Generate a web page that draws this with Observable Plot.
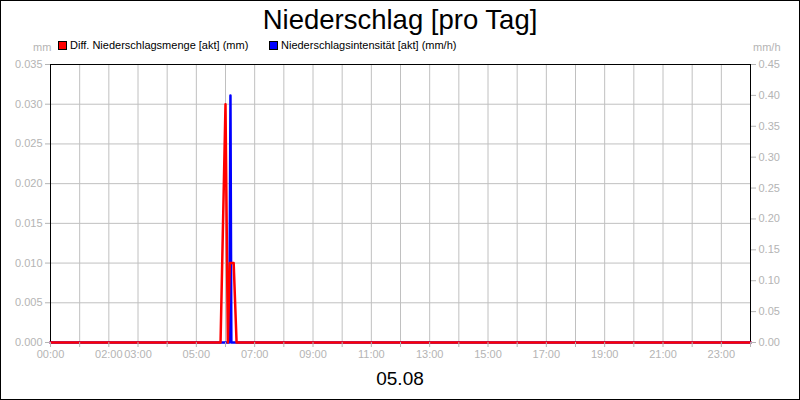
<!DOCTYPE html>
<html>
<head>
<meta charset="utf-8">
<script src="https://cdn.jsdelivr.net/npm/d3@7"></script>
<script src="https://cdn.jsdelivr.net/npm/@observablehq/plot@0.6"></script>
<style>
  html, body { margin: 0; padding: 0; background: #fff; }
  #wrap { position: relative; width: 800px; height: 400px; overflow: hidden; font-family: "Liberation Sans", Arial, sans-serif; }
  #wrap svg { position: absolute; left: 0; top: 0; }
  #border { position: absolute; left: 0; top: 0; width: 800px; height: 400px; box-sizing: border-box; border: 1px solid #000; pointer-events: none; }
  .abs { position: absolute; white-space: nowrap; line-height: 1; }
  #title { left: 0; width: 800px; text-align: center; top: 6px; font-size: 27.5px; color: #000; }
  #date { left: 0; width: 800px; text-align: center; top: 369px; font-size: 19px; color: #000; }
  .leg { top: 40px; font-size: 11px; color: #000; }
  .sw { display: inline-block; width: 7px; height: 7px; border: 1px solid #000; vertical-align: -1px; margin-right: 3px; }
  .unit { top: 42px; font-size: 11px; color: #b4b4b4; }
</style>
</head>
<body>
<div id="wrap">
  <div id="title" class="abs">Niederschlag [pro Tag]</div>
  <div class="abs leg" style="left:58px"><span class="sw" style="background:#ff0000"></span>Diff. Niederschlagsmenge [akt] (mm)</div>
  <div class="abs leg" style="left:269px"><span class="sw" style="background:#0000ff"></span>Niederschlagsintensität [akt] (mm/h)</div>
  <div class="abs unit" style="left:33px">mm</div>
  <div class="abs unit" style="left:753px">mm/h</div>
  <div id="date" class="abs">05.08</div>
  <div id="border"></div>
</div>
<script>
// Diff. Niederschlagsmenge (mm), time in hours of day
const mengeTime  = [0, 5.83, 6.0, 6.08, 6.15, 6.28, 6.38, 24];
const mengeValue = [0, 0, 0.030, 0, 0.010, 0.010, 0, 0];
// Niederschlagsintensität (mm/h)
const intensTime  = [0, 6.13, 6.17, 6.2, 24];
const intensValue = [0, 0, 0.40, 0, 0];

const leftTicks  = [0, 0.005, 0.010, 0.015, 0.020, 0.025, 0.030, 0.035];
const rightTicks = [0, 0.05, 0.10, 0.15, 0.20, 0.25, 0.30, 0.35, 0.40, 0.45];
const hourTicks  = d3.range(0, 25);
const hourLabels = [0, 2, 3, 5, 7, 9, 11, 13, 15, 17, 19, 21, 23];

const k = 0.035 / 0.45; // right axis -> left axis
const menge  = mengeTime.map((t, i) => ({t, v: mengeValue[i]}));
const intens = intensTime.map((t, i) => ({t, v: intensValue[i] * k}));

const gray = "#b4b4b4";
const chart = Plot.plot({
  width: 800, height: 400,
  marginLeft: 50, marginRight: 50, marginTop: 64, marginBottom: 58,
  x: {domain: [0, 24]},
  y: {domain: [0, 0.035]},
  style: {fontFamily: "'Liberation Sans', Arial, sans-serif", fontSize: "11px", background: "transparent", overflow: "visible"},
  marks: [
    Plot.gridY(leftTicks.slice(1, -1), {stroke: "#c0c0c0", strokeOpacity: 1}),
    Plot.gridX(hourTicks.slice(1, -1), {stroke: "#c0c0c0", strokeOpacity: 1}),
    Plot.frame({stroke: "#000"}),
    Plot.line(intens, {x: "t", y: "v", stroke: "#0000ff", strokeWidth: 2.5}),
    Plot.line(menge, {x: "t", y: "v", stroke: "#ff0000", strokeWidth: 2.5}),
    Plot.axisY(leftTicks, {anchor: "left", tickSize: 5, tickPadding: 3, tickFormat: d => d.toFixed(3), color: gray, label: null}),
    Plot.axisY(rightTicks.map(d => d * k), {anchor: "right", tickSize: 5, tickPadding: 3, tickFormat: d => (d / k).toFixed(2), color: gray, label: null}),
    Plot.axisX(hourTicks, {anchor: "bottom", tickSize: 5, tickPadding: 3, tickFormat: h => hourLabels.includes(h) ? String(h).padStart(2, "0") + ":00" : "", color: gray, label: null})
  ]
});
document.getElementById("wrap").insertBefore(chart, document.getElementById("title"));
</script>
</body>
</html>
